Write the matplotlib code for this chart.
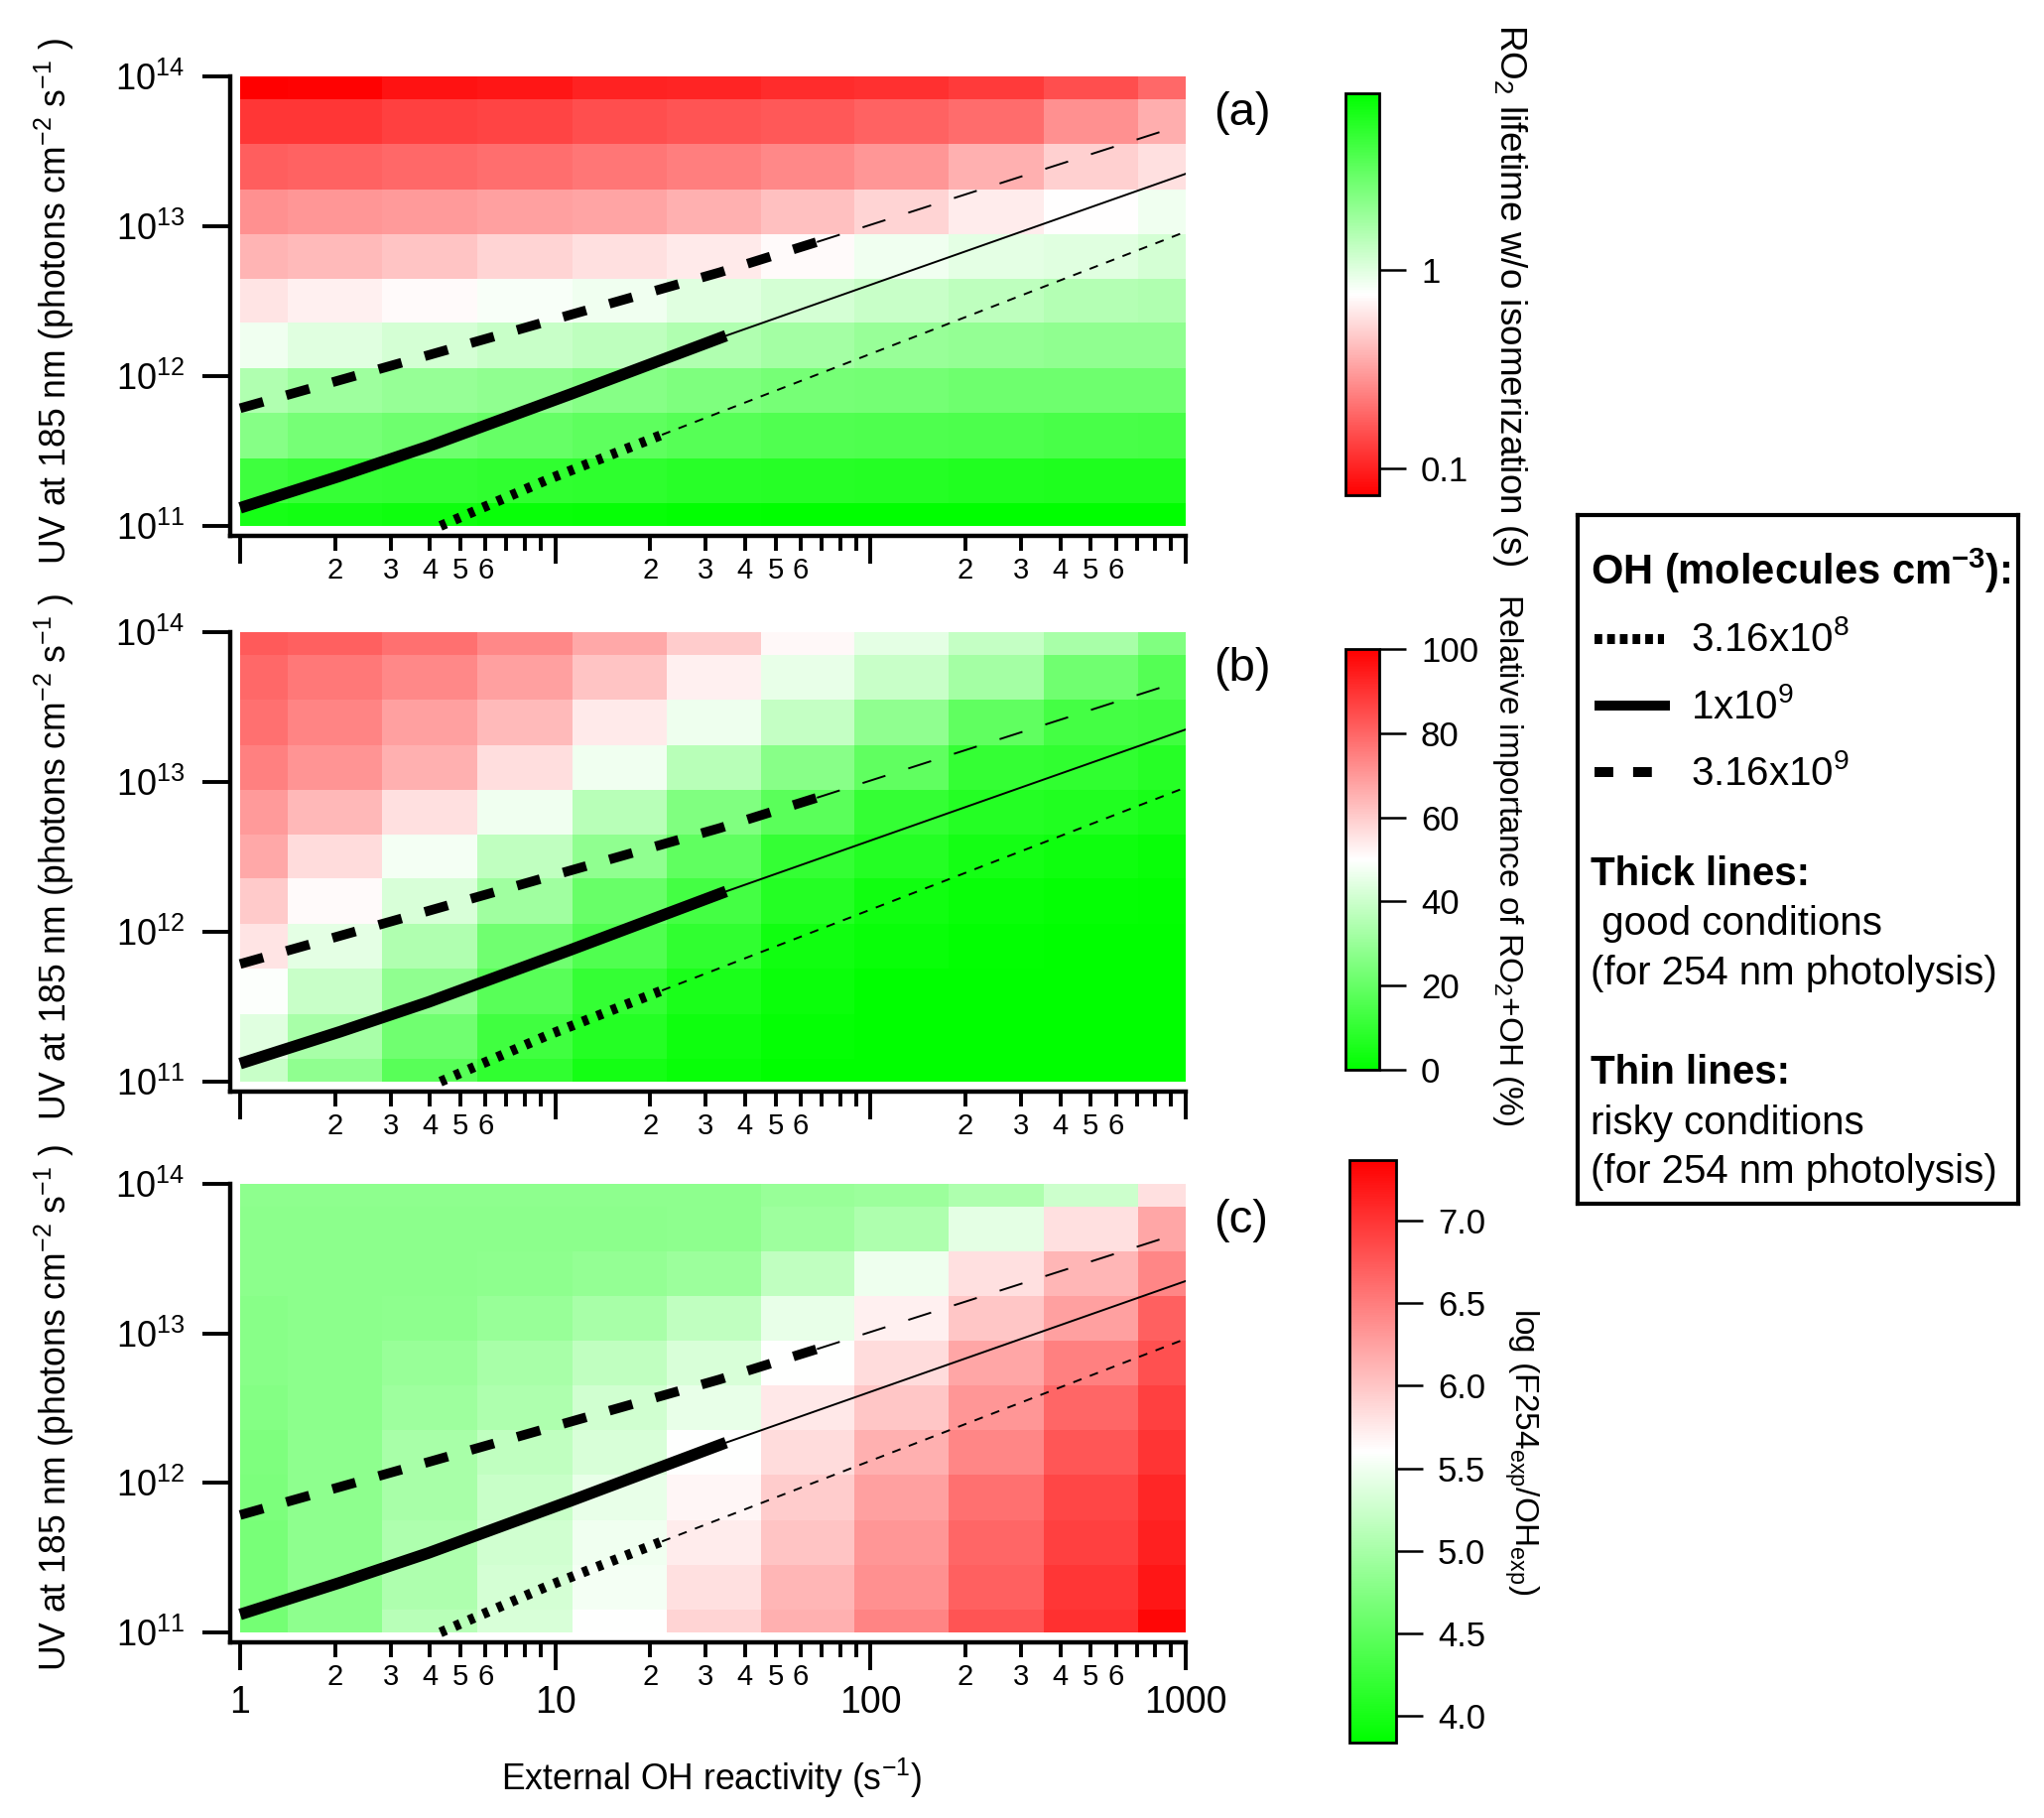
import numpy as np
import matplotlib
matplotlib.use('Agg')
import matplotlib.pyplot as plt
from matplotlib.colors import LinearSegmentedColormap, LogNorm, Normalize
from matplotlib.ticker import FixedLocator, FuncFormatter, NullLocator, NullFormatter

plt.rcParams['font.family'] = ['Liberation Sans', 'DejaVu Sans']
plt.rcParams['mathtext.fontset'] = 'custom'
plt.rcParams['mathtext.rm'] = 'Liberation Sans'
plt.rcParams['mathtext.it'] = 'Liberation Sans:italic'
plt.rcParams['mathtext.bf'] = 'Liberation Sans:bold'
plt.rcParams['lines.scale_dashes'] = False

# model grid
reactivity = [1, 2, 4, 8, 16, 32, 63, 125, 250, 500, 1000]   # s-1
uv_flux = [1e11, 2e11, 4e11, 8e11, 1.6e12, 3.2e12, 6.3e12, 1.25e13, 2.5e13, 5e13, 1e14]

# rows from top (1e14) down to bottom (1e11)
ro2_lifetime = [
    [0.072, 0.076, 0.087, 0.091, 0.100, 0.102, 0.110, 0.115, 0.126, 0.151, 0.191],
    [0.120, 0.120, 0.132, 0.138, 0.151, 0.158, 0.166, 0.182, 0.199, 0.275, 0.361],
    [0.173, 0.182, 0.190, 0.203, 0.218, 0.235, 0.253, 0.292, 0.365, 0.490, 0.568],
    [0.272, 0.288, 0.298, 0.315, 0.330, 0.365, 0.423, 0.513, 0.634, 0.754, 0.865],
    [0.382, 0.400, 0.443, 0.513, 0.568, 0.622, 0.721, 0.865, 0.957, 1.00, 1.11],
    [0.594, 0.658, 0.721, 0.804, 0.865, 1.00, 1.11, 1.25, 1.37, 1.49, 1.56],
    [0.865, 1.00, 1.11, 1.25, 1.37, 1.56, 1.73, 1.91, 2.00, 2.09, 2.09],
    [1.56, 1.81, 1.95, 2.09, 2.25, 2.42, 2.61, 2.68, 2.81, 2.81, 2.81],
    [2.25, 2.61, 2.81, 3.02, 3.25, 3.50, 3.70, 3.77, 3.87, 3.98, 4.06],
    [4.37, 4.70, 4.83, 4.95, 5.05, 5.33, 5.43, 5.58, 5.74, 5.85, 5.85],
    [6.30, 6.47, 6.78, 7.16, 7.29, 7.50, 7.71, 7.76, 7.76, 7.76, 7.76],
]

ro2_oh_pct = [
    [82.4, 81.2, 78.0, 73.3, 67.1, 60.0, 51.4, 44.9, 38.6, 32.9, 25.1],
    [79.6, 76.5, 73.3, 68.6, 61.4, 53.0, 45.5, 39.2, 32.3, 22.0, 16.7],
    [78.0, 73.9, 68.6, 63.5, 54.1, 46.6, 38.6, 28.2, 18.8, 13.5, 12.5],
    [74.9, 70.8, 65.5, 56.3, 47.0, 36.1, 26.7, 18.8, 10.4, 9.4, 7.8],
    [69.8, 63.9, 56.1, 47.0, 36.1, 25.1, 17.6, 10.4, 7.3, 6.3, 4.7],
    [67.1, 56.9, 48.0, 37.6, 28.2, 18.8, 10.4, 7.3, 4.1, 3.1, 1.6],
    [60.4, 51.0, 42.3, 31.4, 20.4, 13.5, 7.3, 3.5, 1.6, 1.0, 0.4],
    [55.1, 44.9, 34.5, 22.0, 15.7, 9.4, 3.5, 1.6, 0.4, 0.0, 0.0],
    [49.4, 39.2, 28.2, 17.2, 10.4, 5.1, 2.0, 0.0, 0.0, 0.0, 0.0],
    [43.9, 32.9, 22.0, 12.5, 7.3, 3.1, 1.0, 0.0, 0.0, 0.0, 0.0],
    [39.2, 28.2, 17.2, 9.4, 4.1, 1.6, 0.0, 0.0, 0.0, 0.0, 0.0],
]

log_f254_ohexp = [
    [4.83, 4.83, 4.83, 4.83, 4.83, 4.83, 4.89, 4.92, 5.05, 5.25, 5.82],
    [4.81, 4.81, 4.81, 4.81, 4.81, 4.83, 4.94, 5.05, 5.42, 5.82, 6.21],
    [4.81, 4.81, 4.81, 4.83, 4.86, 4.92, 5.17, 5.48, 5.82, 6.10, 6.43],
    [4.79, 4.81, 4.83, 4.89, 5.00, 5.17, 5.44, 5.71, 5.99, 6.26, 6.70],
    [4.78, 4.81, 4.89, 5.00, 5.17, 5.34, 5.60, 5.85, 6.21, 6.48, 6.81],
    [4.76, 4.81, 4.94, 5.05, 5.28, 5.44, 5.76, 5.99, 6.32, 6.65, 6.92],
    [4.72, 4.83, 5.00, 5.17, 5.34, 5.60, 5.85, 6.15, 6.43, 6.76, 7.00],
    [4.70, 4.83, 5.00, 5.22, 5.44, 5.67, 5.96, 6.26, 6.59, 6.87, 7.09],
    [4.67, 4.83, 5.05, 5.28, 5.50, 5.74, 6.01, 6.32, 6.65, 6.92, 7.14],
    [4.67, 4.83, 5.05, 5.31, 5.53, 5.82, 6.10, 6.37, 6.70, 6.98, 7.20],
    [4.65, 4.83, 5.11, 5.33, 5.60, 5.90, 6.15, 6.45, 6.78, 7.03, 7.31],
]

# OH iso-lines (reactivity, UV); thick = good, thin = risky
oh1_thick_x = [4.32, 9.46, 21.8]
oh1_thick_y = [1.0e11, 2.04e11, 4.06e11]
oh1_thin_x = [21.8, 1000]
oh1_thin_y = [4.06e11, 9.2e12]

oh2_thick_x = [1, 2.07, 3.96, 11.2, 34.8]
oh2_thick_y = [1.32e11, 2.15e11, 3.40e11, 7.59e11, 1.86e12]
oh2_thin_x = [34.8, 1000]
oh2_thin_y = [1.86e12, 2.24e13]

oh3_thick_x = [1, 3.96, 33.2, 67.6]
oh3_thick_y = [6.1e11, 1.38e12, 4.92e12, 7.85e12]
oh3_thin_x = [67.6, 955]
oh3_thin_y = [7.85e12, 4.68e13]

oh_labels = ['3.16x10$^{8}$', '1x10$^{9}$', '3.16x10$^{9}$']


W, H = 2060, 1832
fig = plt.figure(figsize=(W / 200, H / 200), dpi=200)


def fx(px):
    return px / W


def fy(py):
    return 1 - py / H


def edges(c):
    c = np.asarray(c, float)
    mid = np.sqrt(c[:-1] * c[1:])
    return np.concatenate([[c[0]], mid, [c[-1]]])


green_white_red = LinearSegmentedColormap.from_list('gwr', ['#00ff00', '#ffffff', '#ff0000'])
red_white_green = LinearSegmentedColormap.from_list('rwg', ['#ff0000', '#ffffff', '#00ff00'])

xe = edges(reactivity)
ye = edges(uv_flux)

panels = [
    dict(data=ro2_lifetime, cmap=red_white_green, norm=LogNorm(0.0733, 7.76), top=77, bot=530,
         tag='(a)', cb=(1356, 94, 34, 405), cbticks=[0.1, 1], cbfmt=lambda v, p: '%g' % v,
         cblabel='RO$_2$ lifetime w/o isomerization (s)', cbl_pos=(1522, 297), cbl_fs=13.3),
    dict(data=ro2_oh_pct, cmap=green_white_red, norm=Normalize(0, 100), top=637, bot=1090,
         tag='(b)', cb=(1356, 654, 34, 424), cbticks=[0, 20, 40, 60, 80, 100], cbfmt=lambda v, p: '%d' % v,
         cblabel='Relative importance of RO$_2$+OH (%)', cbl_pos=(1519, 866), cbl_fs=12),
    dict(data=log_f254_ohexp, cmap=green_white_red, norm=Normalize(3.84, 7.365), top=1193, bot=1645,
         tag='(c)', cb=(1360, 1169, 47, 587), cbticks=[4.0, 4.5, 5.0, 5.5, 6.0, 6.5, 7.0],
         cbfmt=lambda v, p: '%.1f' % v,
         cblabel=r'log (F254$_{\mathrm{exp}}$/OH$_{\mathrm{exp}}$)', cbl_pos=(1533, 1463), cbl_fs=12),
]

minor_x = [m * 10 ** d for d in range(3) for m in range(2, 10)]


def minor_label(v, pos):
    mant = v / 10 ** np.floor(np.log10(v) + 1e-9)
    k = int(round(mant))
    return str(k) if 2 <= k <= 6 else ''


off_px = 10
for i, p in enumerate(panels):
    top, bot = p['top'], p['bot']
    ax = fig.add_axes([fx(242), fy(bot), 953 / W, (bot - top) / H])
    mesh = ax.pcolormesh(xe, ye, np.array(p['data'])[::-1], cmap=p['cmap'], norm=p['norm'])
    ax.set_xscale('log')
    ax.set_yscale('log')
    ax.set_xlim(1, 1000)
    ax.set_ylim(1e11, 1e14)

    # OH lines
    ax.plot(oh1_thick_x, oh1_thick_y, color='k', lw=3.6, dashes=(2.2, 3.4), clip_on=False)
    ax.plot(oh1_thin_x, oh1_thin_y, color='k', lw=0.7, dashes=(3.2, 3.2))
    ax.plot(oh2_thick_x, oh2_thick_y, color='k', lw=4.2, solid_capstyle='butt', clip_on=False)
    ax.plot(oh2_thin_x, oh2_thin_y, color='k', lw=0.7)
    ax.plot(oh3_thick_x, oh3_thick_y, color='k', lw=3.5, dashes=(8.7, 8.7), clip_on=False)
    ax.plot(oh3_thin_x, oh3_thin_y, color='k', lw=0.7, dashes=(8.7, 8.7))

    # Igor-like axes: offset spines, no top/right
    for s in ['top', 'right']:
        ax.spines[s].set_visible(False)
    for s in ['left', 'bottom']:
        ax.spines[s].set_position(('outward', off_px * 72 / 200))
        ax.spines[s].set_linewidth(1.6)
    h_px = bot - top
    ax.spines['left'].set_bounds(1e11 * 1000 ** (-off_px / h_px), 1e14)
    ax.spines['bottom'].set_bounds(1000 ** (-off_px / 953), 1000)

    ax.yaxis.set_major_locator(FixedLocator([1e11, 1e12, 1e13, 1e14]))
    ax.yaxis.set_minor_locator(NullLocator())
    ax.yaxis.set_major_formatter(FuncFormatter(lambda v, pos: r'$10^{%d}$' % round(np.log10(v))))
    ax.tick_params(axis='y', which='major', direction='out', length=10, width=1.4, pad=6.5, labelsize=13)

    ax.xaxis.set_major_locator(FixedLocator([1, 10, 100, 1000]))
    ax.xaxis.set_minor_locator(FixedLocator(minor_x))
    ax.xaxis.set_minor_formatter(FuncFormatter(minor_label))
    if i == 2:
        ax.xaxis.set_major_formatter(FuncFormatter(lambda v, pos: '%d' % v))
    else:
        ax.xaxis.set_major_formatter(NullFormatter())
    ax.tick_params(axis='x', which='major', direction='out', length=10, width=1.4, pad=5.4, labelsize=13.5)
    ax.tick_params(axis='x', which='minor', direction='out', length=5.4, width=1.4, pad=2.0, labelsize=10.5)

    fig.text(fx(55), fy((top + bot) / 2), 'UV at 185 nm (photons cm$^{-2}$ s$^{-1}$ )',
             rotation=90, ha='center', va='center', fontsize=12.8)
    fig.text(fx(1223), fy(top + 37), p['tag'], ha='left', va='center', fontsize=17)

    # colour bar
    cx, cy, cw, ch = p['cb']
    cax = fig.add_axes([fx(cx), fy(cy + ch), cw / W, ch / H])
    cb = fig.colorbar(mesh, cax=cax)
    cb.outline.set_linewidth(1.0)
    cax.yaxis.set_major_locator(FixedLocator(p['cbticks']))
    cax.yaxis.set_minor_locator(NullLocator())
    cax.yaxis.set_major_formatter(FuncFormatter(p['cbfmt']))
    cax.tick_params(which='major', length=9.7, width=0.9, pad=5.4, labelsize=12.5)
    fig.text(fx(p['cbl_pos'][0]), fy(p['cbl_pos'][1]), p['cblabel'], rotation=-90,
             ha='center', va='center', fontsize=p['cbl_fs'])

fig.text(fx(717), fy(1792), 'External OH reactivity (s$^{-1}$)', ha='center', va='center', fontsize=12.8)

# legend box
lax = fig.add_axes([fx(1590), fy(1213), 444 / W, 694 / H])
lax.set_xlim(1590, 2034)
lax.set_ylim(1213, 519)
lax.set_xticks([])
lax.set_yticks([])
for s in lax.spines.values():
    s.set_linewidth(1.5)

lax.text(1603, 589, r'OH (molecules cm$^{\mathbf{-3}}$):', fontsize=15, fontweight='bold', va='baseline')
lax.plot([1607, 1677], [644, 644], color='k', lw=3.6, dashes=(2.8, 1.8))
lax.plot([1607, 1683], [711, 711], color='k', lw=3.6, solid_capstyle='butt')
lax.plot([1607, 1665], [778, 778], color='k', lw=3.6, dashes=(6.8, 7.2))
for lab, yb in zip(oh_labels, [656, 724, 791]):
    lax.text(1704, yb, lab, fontsize=14.5, va='baseline')
lax.text(1603, 892, 'Thick lines:', fontsize=14.5, fontweight='bold', va='baseline')
lax.text(1603, 942, ' good conditions', fontsize=14.5, va='baseline')
lax.text(1603, 992, '(for 254 nm photolysis)', fontsize=14.5, va='baseline')
lax.text(1603, 1092, 'Thin lines:', fontsize=14.5, fontweight='bold', va='baseline')
lax.text(1603, 1143, 'risky conditions', fontsize=14.5, va='baseline')
lax.text(1603, 1192, '(for 254 nm photolysis)', fontsize=14.5, va='baseline')

fig.savefig('out.png', dpi=200, facecolor='white')
